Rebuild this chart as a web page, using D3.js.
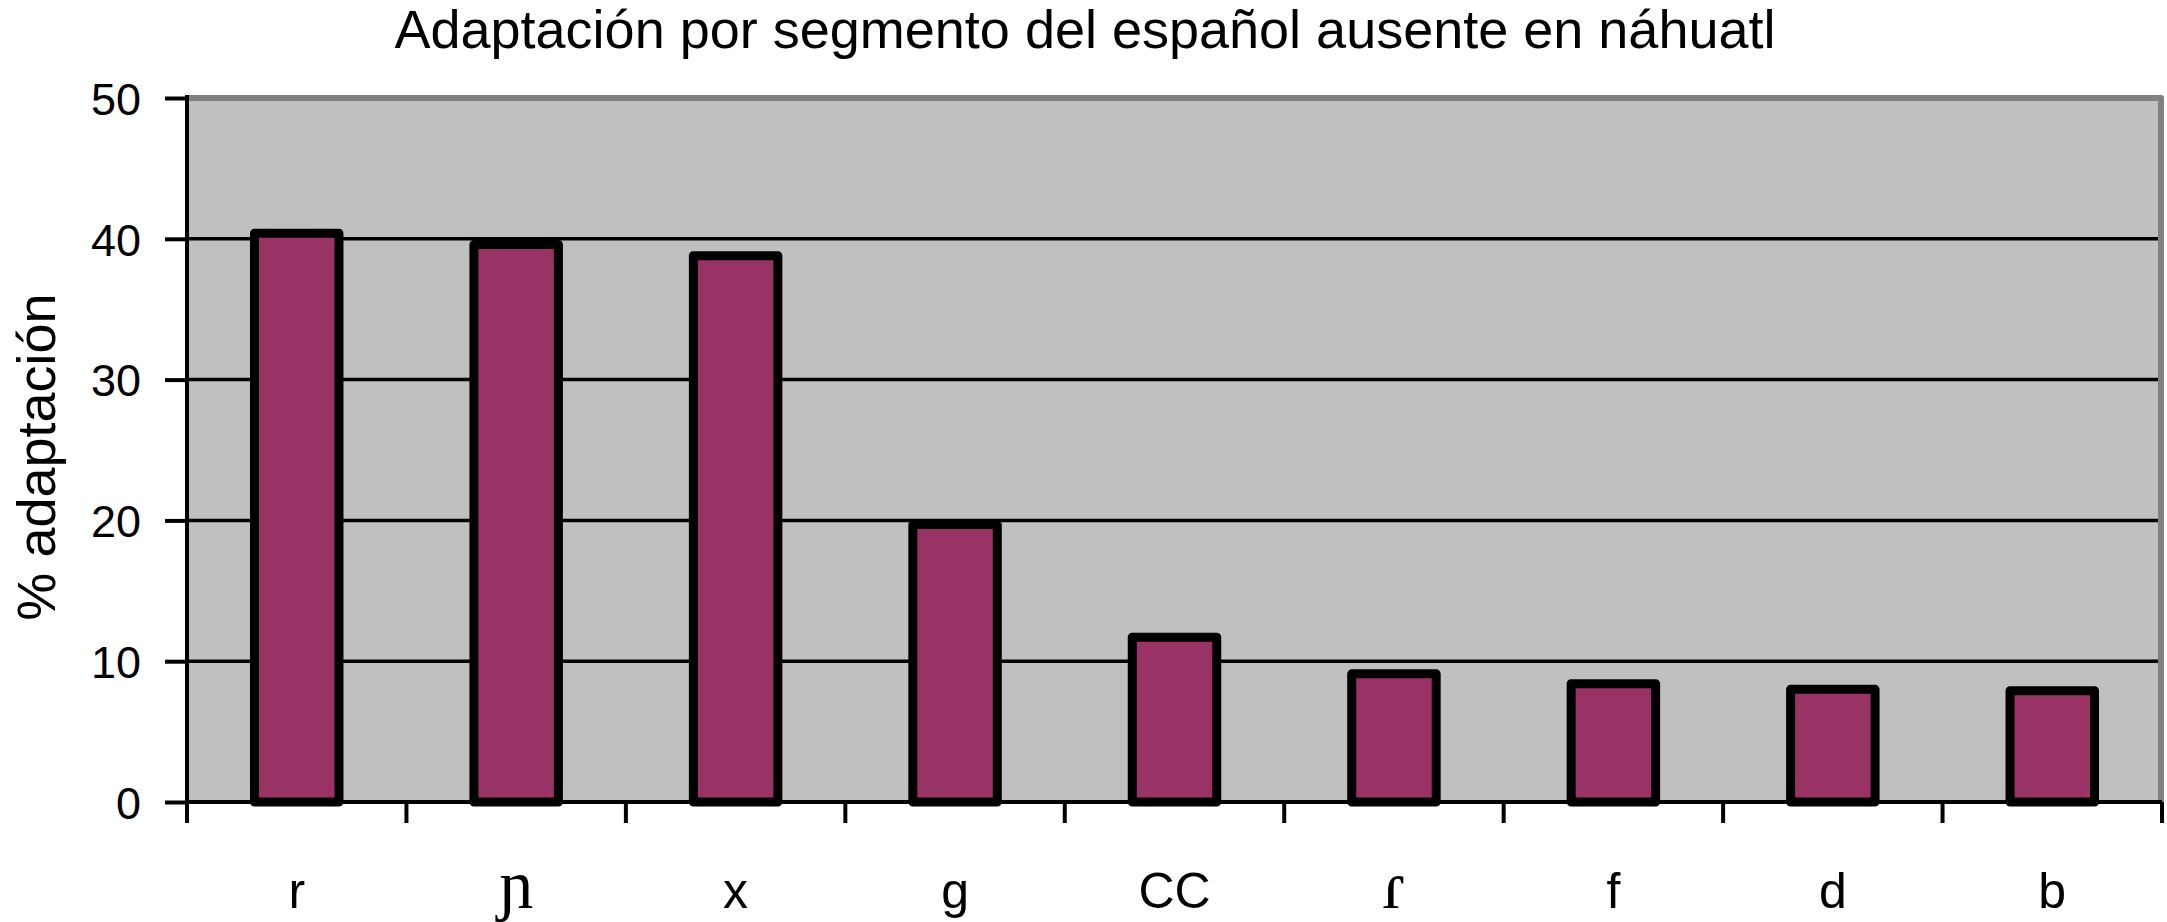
<!DOCTYPE html>
<html>
<head>
<meta charset="utf-8">
<script src="https://cdn.jsdelivr.net/npm/d3@7"></script>
<style>
  html, body { margin: 0; padding: 0; background: #ffffff; }
  svg { display: block; }
</style>
</head>
<body>
<svg id="chart" width="2167" height="922"></svg>
<script>
const categories = ["r", "ɲ", "x", "g", "CC", "ɾ", "f", "d", "b"];
const values = [40.4, 39.6, 38.8, 19.7, 11.7, 9.1, 8.4, 8.0, 7.9];
const yTicks = [0, 10, 20, 30, 40, 50];
const ipaLabels = ["ɲ", "ɾ"];
const title = "Adaptación por segmento del español ausente en náhuatl";
const yTitle = "% adaptación";

const W = 2167, H = 922;
const margin = { left: 187, right: 5, top: 98, bottom: 120 };
const plotR = 2162, plotB = 802;

const svg = d3.select("#chart");
const font = "'Liberation Sans', Arial, Helvetica, sans-serif";

const x = d3.scaleBand().domain(categories).range([margin.left, plotR]).paddingInner(0).paddingOuter(0);
const y = d3.scaleLinear().domain([0, 50]).range([plotB, margin.top]);

// plot background
svg.append("rect")
  .attr("x", margin.left).attr("y", margin.top)
  .attr("width", plotR - margin.left).attr("height", plotB - margin.top)
  .attr("fill", "#C0C0C0");

// gridlines
svg.append("g").selectAll("line")
  .data(yTicks.filter(d => d > 0 && d < 50))
  .join("line")
  .attr("x1", margin.left).attr("x2", plotR - 3)
  .attr("y1", d => y(d)).attr("y2", d => y(d))
  .attr("stroke", "#000").attr("stroke-width", 3.5);

// top & right border (gray)
svg.append("path")
  .attr("d", `M${margin.left},${y(50)} H${plotR - 1} V${plotB}`)
  .attr("fill", "none").attr("stroke", "#808080").attr("stroke-width", 6)
  .attr("stroke-linejoin", "round");

// bars
const bw = x.bandwidth() * 0.385;
svg.append("g").selectAll("rect")
  .data(categories.map((c, i) => ({ c, v: values[i] })))
  .join("rect")
  .attr("x", d => x(d.c) + x.bandwidth() / 2 - bw / 2)
  .attr("y", d => y(d.v))
  .attr("width", bw)
  .attr("height", d => y(0) - y(d.v))
  .attr("fill", "#993366")
  .attr("stroke", "#000")
  .attr("stroke-width", 9)
  .attr("stroke-linejoin", "round");

// y axis
const yAxis = d3.axisLeft(y).tickValues(yTicks).tickSize(22).tickPadding(24);
const gy = svg.append("g").attr("transform", `translate(${margin.left},0)`).call(yAxis);
gy.select(".domain").remove();
gy.selectAll(".tick line").attr("stroke", "#000").attr("stroke-width", 4);
gy.selectAll(".tick text")
  .attr("font-family", font).attr("font-size", 45).attr("fill", "#000")
  .attr("dy", "0.36em");
svg.append("line")
  .attr("x1", margin.left).attr("x2", margin.left)
  .attr("y1", margin.top - 3).attr("y2", plotB + 21)
  .attr("stroke", "#000").attr("stroke-width", 4);

// x axis
const xAxis = d3.axisBottom(x).tickSize(0).tickPadding(0).tickFormat(d => d);
const gx = svg.append("g").attr("transform", `translate(0,${plotB})`).call(xAxis);
gx.select(".domain").remove();
gx.selectAll(".tick text")
  .attr("y", 106).attr("dy", 0)
  .attr("fill", "#000")
  .attr("font-family", d => ipaLabels.includes(d) ? "'Liberation Serif', 'DejaVu Serif', serif" : font)
  .attr("font-size", d => ipaLabels.includes(d) ? 68 : 50);

svg.append("line")
  .attr("x1", margin.left).attr("x2", plotR)
  .attr("y1", plotB).attr("y2", plotB)
  .attr("stroke", "#000").attr("stroke-width", 4);

// category boundary ticks
const bounds = categories.map(c => x(c)).concat([plotR]);
svg.append("g").selectAll("line")
  .data(bounds)
  .join("line")
  .attr("x1", d => d).attr("x2", d => d)
  .attr("y1", plotB).attr("y2", plotB + 21)
  .attr("stroke", "#000").attr("stroke-width", 4);

// title
svg.append("text")
  .attr("x", 1085).attr("y", 48)
  .attr("text-anchor", "middle")
  .attr("font-family", font).attr("font-size", 54).attr("fill", "#000")
  .text(title);

// y title
svg.append("text")
  .attr("transform", `translate(55,${(margin.top + plotB) / 2 + 7}) rotate(-90)`)
  .attr("text-anchor", "middle")
  .attr("font-family", font).attr("font-size", 54).attr("fill", "#000")
  .text(yTitle);
</script>
</body>
</html>
